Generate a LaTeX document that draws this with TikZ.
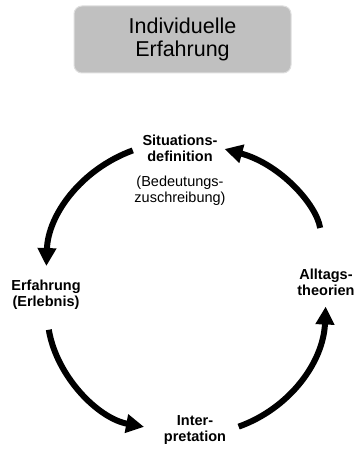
\documentclass[tikz,border=0pt]{standalone}
\usepackage{fontspec}
\setmainfont{Liberation Sans}
\usetikzlibrary{arrows.meta,positioning}
\definecolor{boxgray}{RGB}{192,192,192}
\definecolor{boxedge}{RGB}{222,222,222}
\tikzset{
  titlebox/.style={draw=boxedge,fill=boxgray,line width=1pt,rounded corners=8pt,
    minimum width=217pt,minimum height=67pt,align=center,
    font=\fontsize{21.5}{23}\selectfont},
  stage/.style={align=center,inner sep=3pt,font=\fontsize{14.5}{16}\selectfont\bfseries},
  note/.style={align=center,inner sep=3pt,font=\fontsize{14.5}{16}\selectfont},
  cyclearrow/.style={line width=6pt,-{Triangle[length=18pt,width=18pt]}},
}
\begin{document}
\begin{tikzpicture}[x=1pt,y=1pt]
  \useasboundingbox (0,0) rectangle (356,-449);
  \node[titlebox] (title) at (182.5,-39.5) {Individuelle\\Erfahrung};
  % stages of the cycle
  \node[stage] (sit) at (180,-148) {Situations-\\definition};
  \node[note]  (bed) at (180,-191) {(Bedeutungs-\\zuschreibung)};
  \node[stage] (erf) at (46,-295)  {Erfahrung\\(Erlebnis)};
  \node[stage] (int) at (195,-430) {Inter-\\pretation};
  \node[stage] (alt) at (326,-282) {Alltags-\\theorien};
  % arrows
  \draw[cyclearrow,shorten <=7pt,shorten >=11pt]  (sit.west)  to[bend right=34] (erf.north);
  \draw[cyclearrow,shorten <=17pt,shorten >=17pt] (erf.south) to[bend right=35] (int.west);
  \draw[cyclearrow,shorten <=10pt,shorten >=8pt]  (int.east)  to[bend right=34] (alt.south);
  \draw[cyclearrow,shorten <=38pt,shorten >=4pt]  (alt.north) to[bend right=33] (sit.east);
\end{tikzpicture}
\end{document}
